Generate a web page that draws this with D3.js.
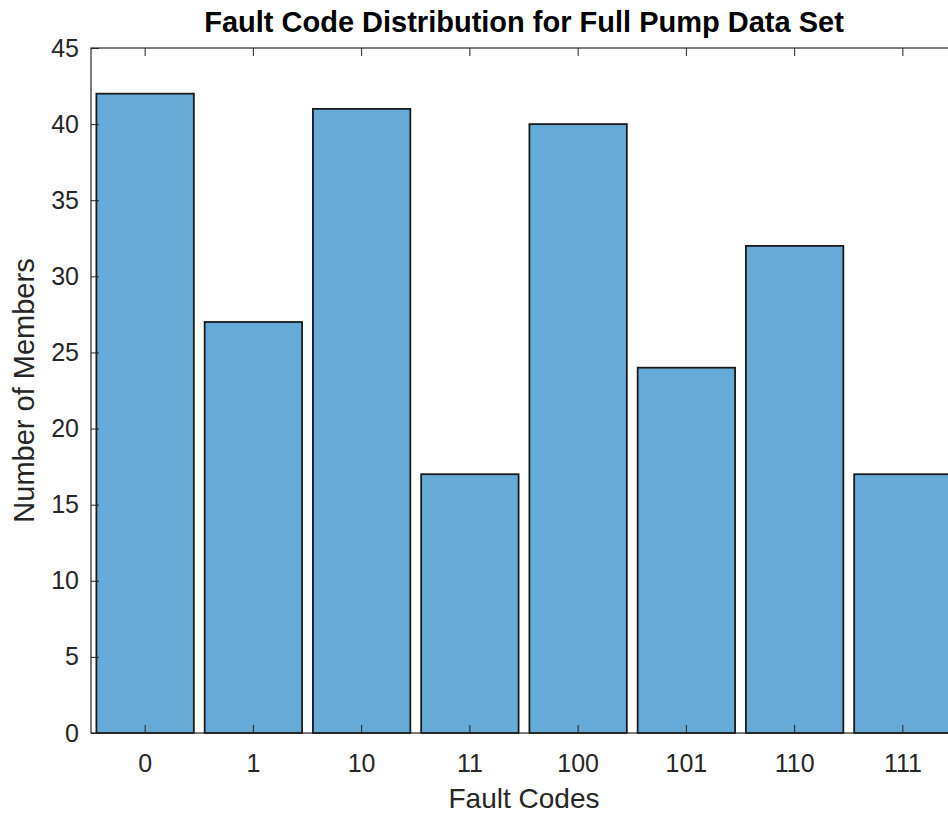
<!DOCTYPE html>
<html lang="en">
<head>
<meta charset="UTF-8">
<title>Fault Code Distribution</title>
<style>
  body { margin: 0; background: #fff; }
  svg { display: block; font-family: "Liberation Sans", Arial, sans-serif; }
</style>
</head>
<body>
<div id="chart"></div>
<script src="https://d3js.org/d3.v7.min.js"></script>
<script>
// data
var faultCodes = ["0", "1", "10", "11", "100", "101", "110", "111"];
var memberCounts = [42, 27, 41, 17, 40, 24, 32, 17];
var yTicks = [0, 5, 10, 15, 20, 25, 30, 35, 40, 45];

var W = 948, H = 815;
var plot = { left: 91, right: 957, top: 48, bottom: 733 };
var axisColor = "#262626";
var tickLen = 8;

var svg = d3.select("#chart").append("svg")
    .attr("width", W)
    .attr("height", H);

var x = d3.scaleBand()
    .domain(faultCodes)
    .range([plot.left, plot.right])
    .paddingInner(0.1)
    .paddingOuter(0.05);

var y = d3.scaleLinear()
    .domain([0, 45])
    .range([plot.bottom, plot.top]);

// bars
svg.selectAll(".bar")
    .data(memberCounts)
    .enter()
    .append("rect")
    .attr("class", "bar")
    .attr("x", function (d, i) { return x(faultCodes[i]); })
    .attr("y", function (d) { return y(d); })
    .attr("width", x.bandwidth())
    .attr("height", function (d) { return y(0) - y(d); })
    .style("fill", "rgb(102,170,215)")
    .style("stroke", "#1a1a1a")
    .style("stroke-width", 1.8);

// box
svg.append("rect")
    .attr("x", plot.left)
    .attr("y", plot.top)
    .attr("width", plot.right - plot.left)
    .attr("height", plot.bottom - plot.top)
    .style("fill", "none")
    .style("stroke", axisColor)
    .style("stroke-width", 1.2);

// bottom axis (ticks inward)
var xAxis = svg.append("g")
    .attr("transform", "translate(0," + plot.bottom + ")")
    .call(d3.axisBottom(x).tickSizeInner(-tickLen).tickSizeOuter(0).tickPadding(21));
xAxis.select(".domain").remove();
xAxis.selectAll(".tick line").style("stroke", axisColor);
xAxis.selectAll(".tick text")
    .style("font-size", "25px")
    .style("fill", axisColor);

// top axis ticks
var xTop = svg.append("g")
    .attr("transform", "translate(0," + plot.top + ")")
    .call(d3.axisTop(x).tickSizeInner(-tickLen).tickSizeOuter(0).tickFormat(""));
xTop.select(".domain").remove();
xTop.selectAll(".tick line").style("stroke", axisColor);

// left axis
var yAxis = svg.append("g")
    .attr("transform", "translate(" + plot.left + ",0)")
    .call(d3.axisLeft(y).tickValues(yTicks).tickSizeInner(-tickLen).tickSizeOuter(0).tickPadding(12));
yAxis.select(".domain").remove();
yAxis.selectAll(".tick line").style("stroke", axisColor);
yAxis.selectAll(".tick text")
    .style("font-size", "25px")
    .style("fill", axisColor);

// right axis ticks
var yRight = svg.append("g")
    .attr("transform", "translate(" + plot.right + ",0)")
    .call(d3.axisRight(y).tickValues(yTicks).tickSizeInner(-tickLen).tickSizeOuter(0).tickFormat(""));
yRight.select(".domain").remove();
yRight.selectAll(".tick line").style("stroke", axisColor);

// title
svg.append("text")
    .attr("x", (plot.left + plot.right) / 2)
    .attr("y", 32)
    .attr("text-anchor", "middle")
    .style("font-size", "29px")
    .style("font-weight", "bold")
    .style("fill", "#000")
    .text("Fault Code Distribution for Full Pump Data Set");

// x label
svg.append("text")
    .attr("x", (plot.left + plot.right) / 2)
    .attr("y", 808)
    .attr("text-anchor", "middle")
    .style("font-size", "28px")
    .style("fill", axisColor)
    .text("Fault Codes");

// y label
svg.append("text")
    .attr("transform", "translate(34," + ((plot.top + plot.bottom) / 2) + ") rotate(-90)")
    .attr("text-anchor", "middle")
    .style("font-size", "29px")
    .style("fill", axisColor)
    .text("Number of Members");
</script>
</body>
</html>
